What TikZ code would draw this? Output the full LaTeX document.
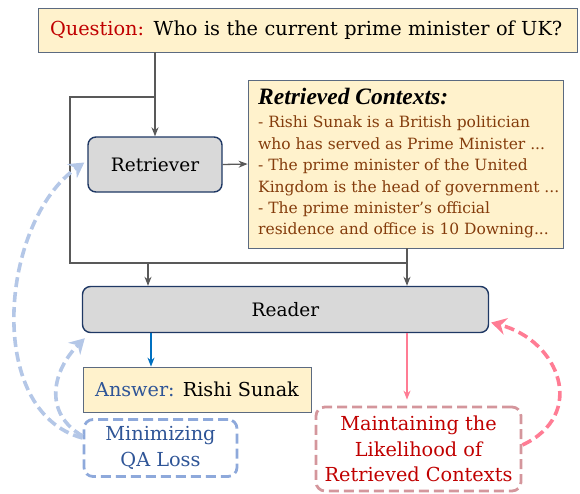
\documentclass[tikz,border=0pt]{standalone}
\usepackage{fontspec}
\setmainfont{DejaVu Serif}
\newfontfamily\titlefont{Liberation Serif}
\usetikzlibrary{arrows.meta}
\definecolor{qred}{HTML}{C00000}
\definecolor{ansblue}{HTML}{2F5597}
\definecolor{ctxbrown}{HTML}{843C0C}
\definecolor{boxyellow}{HTML}{FFF2CC}
\definecolor{boxedge}{HTML}{5B6A80}
\definecolor{modgray}{HTML}{D9D9D9}
\definecolor{modedge}{HTML}{1F3864}
\definecolor{linegray}{HTML}{595959}
\definecolor{outblue}{HTML}{0070C0}
\definecolor{lossblue}{HTML}{8EA9DB}
\definecolor{curveblue}{HTML}{B4C7E7}
\definecolor{losspink}{HTML}{D4969C}
\definecolor{curvepink}{HTML}{FF7C94}
\begin{document}
\begin{tikzpicture}[x=1pt,y=-1pt]
\tikzstyle{every node}=[font=\fontsize{18.5}{22}\selectfont]
\tikzstyle{textbox}=[draw=boxedge,fill=boxyellow,line width=0.8pt,inner sep=0pt]
\tikzstyle{module}=[draw=modedge,fill=modgray,line width=1.4pt,rounded corners=8pt,inner sep=0pt]
\tikzstyle{lossbox}=[line width=2.8pt,dash pattern=on 10pt off 5pt,rounded corners=9pt,inner sep=0pt,align=center,
  font=\fontsize{19.3}{25.5}\selectfont]
\tikzstyle{flow}=[draw=linegray,line width=1.3pt,-{Stealth[length=9pt,width=7pt]}]
\tikzstyle{feedback}=[line width=3.6pt,dash pattern=on 10pt off 5pt,-{Stealth[length=15pt,width=17pt,inset=5pt]}]
\useasboundingbox (0,0) rectangle (580,493);

\node[textbox,text width=515pt,inner xsep=12pt,minimum height=44pt,align=left,
  font=\fontsize{19.3}{22}\selectfont] (question) at (307.5,30)
  {\textcolor{qred}{Question:} Who is the current prime minister of UK?};
\node[module,minimum width=134pt,minimum height=55pt] (retriever) at (155,164.5) {Retriever};
\node[textbox,minimum width=315pt,minimum height=168pt] (ctx) at (405.5,164) {};
\node[anchor=north west,align=left,inner sep=0pt,text=ctxbrown,
  font=\fontsize{15.5}{21.4}\selectfont] (ctxtext) at (258,88)
  {{\titlefont\fontsize{23.5}{24}\selectfont\bfseries\itshape\color{black}Retrieved Contexts:}\\[2pt]
   - Rishi Sunak is a British politician\\
   who has served as Prime Minister ...\\
   - The prime minister of the United\\
   Kingdom is the head of government ...\\
   - The prime minister's official\\
   residence and office is 10 Downing...};
\node[module,minimum width=406pt,minimum height=46pt] (reader) at (285.5,309.5) {Reader};
\node[textbox,minimum width=228pt,minimum height=45pt,font=\fontsize{19.2}{22}\selectfont] (answer) at (197,389.5)
  {\textcolor{ansblue}{Answer:} Rishi Sunak};
\node[lossbox,draw=lossblue,text=ansblue,minimum width=153pt,minimum height=57pt] (minloss) at (160.5,448)
  {Minimizing\\QA Loss};
\node[lossbox,draw=losspink,text=qred,minimum width=205pt,minimum height=84pt] (maintain) at (418.5,449)
  {Maintaining the\\Likelihood of\\Retrieved Contexts};

% question goes to retriever and reader
\coordinate (split) at (155,97);
\coordinate (lefttop) at (70,97);
\coordinate (join) at (407,263);
\draw[flow] (retriever.north |- question.south) -- (retriever.north);
\draw[linegray,line width=1.3pt] (split) -- (lefttop) |- (join);
\draw[flow] (148,263) -- (reader.north -| 148,0);
\draw[flow] (ctx.south -| join) -- (reader.north -| join);
\draw[flow] (retriever.east) -- (ctx.west);

\draw[outblue,line width=1.4pt,-{Stealth[length=9pt,width=7pt]}]
  (reader.south -| 151,0) -- (answer.north -| 151,0);
\draw[curvepink,line width=1.4pt,-{Stealth[length=9pt,width=7pt]}]
  (reader.south -| join) -- ([yshift=6pt]maintain.north -| join);

% training signals
\draw[feedback,curveblue] ([yshift=10pt]minloss.west) to[out=165,in=215,looseness=0.95] ([xshift=-3pt,yshift=2pt]retriever.west);
\draw[feedback,curveblue] ([yshift=12pt]minloss.west) to[out=150,in=225,looseness=1.2] ([xshift=3pt,yshift=-5pt]reader.south west);
\draw[feedback,curvepink] ([yshift=4pt]maintain.east) to[out=25,in=-15,looseness=1.45] ([xshift=2pt,yshift=-13pt]reader.east);
\end{tikzpicture}
\end{document}
